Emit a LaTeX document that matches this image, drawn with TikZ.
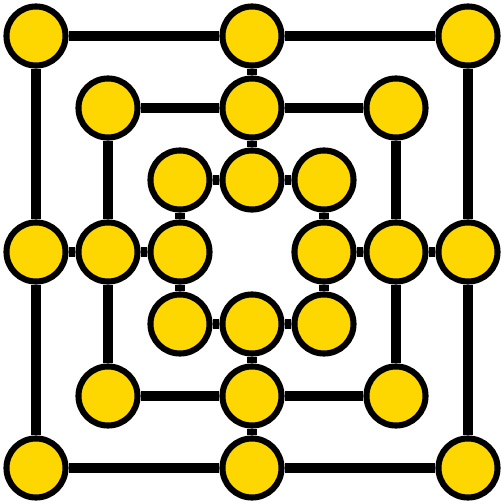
\documentclass[tikz,border=0pt]{standalone}
\definecolor{pegyellow}{RGB}{255, 215, 0}
\usetikzlibrary{positioning}
\tikzset{
	point/.style={circle, draw=black, fill=pegyellow, line width=2.4pt, inner sep=0pt, minimum size=0.82cm},
	bar/.style={draw=black, line width=3.6pt},
}
\begin{document}
\begin{tikzpicture}
		\useasboundingbox (0,0) rectangle (7,7);
		% outer square
		\node[point] (otl) at (0.5,6.5) {};
		\node[point] (otm) at (3.5,6.5) {};
		\node[point] (otr) at (6.5,6.5) {};
		\node[point] (oml) at (0.5,3.5) {};
		\node[point] (omr) at (6.5,3.5) {};
		\node[point] (obl) at (0.5,0.5) {};
		\node[point] (obm) at (3.5,0.5) {};
		\node[point] (obr) at (6.5,0.5) {};
		% middle square
		\node[point] (mtl) at (1.5,5.5) {};
		\node[point] (mtm) at (3.5,5.5) {};
		\node[point] (mtr) at (5.5,5.5) {};
		\node[point] (mml) at (1.5,3.5) {};
		\node[point] (mmr) at (5.5,3.5) {};
		\node[point] (mbl) at (1.5,1.5) {};
		\node[point] (mbm) at (3.5,1.5) {};
		\node[point] (mbr) at (5.5,1.5) {};
		% inner square
		\node[point] (itl) at (2.5,4.5) {};
		\node[point] (itm) at (3.5,4.5) {};
		\node[point] (itr) at (4.5,4.5) {};
		\node[point] (iml) at (2.5,3.5) {};
		\node[point] (imr) at (4.5,3.5) {};
		\node[point] (ibl) at (2.5,2.5) {};
		\node[point] (ibm) at (3.5,2.5) {};
		\node[point] (ibr) at (4.5,2.5) {};
		% lines
		\draw[bar] (otl) -- (otm);
		\draw[bar] (otm) -- (otr);
		\draw[bar] (otr) -- (omr);
		\draw[bar] (omr) -- (obr);
		\draw[bar] (obr) -- (obm);
		\draw[bar] (obm) -- (obl);
		\draw[bar] (obl) -- (oml);
		\draw[bar] (oml) -- (otl);
		\draw[bar] (mtl) -- (mtm);
		\draw[bar] (mtm) -- (mtr);
		\draw[bar] (mtr) -- (mmr);
		\draw[bar] (mmr) -- (mbr);
		\draw[bar] (mbr) -- (mbm);
		\draw[bar] (mbm) -- (mbl);
		\draw[bar] (mbl) -- (mml);
		\draw[bar] (mml) -- (mtl);
		\draw[bar] (itl) -- (itm);
		\draw[bar] (itm) -- (itr);
		\draw[bar] (itr) -- (imr);
		\draw[bar] (imr) -- (ibr);
		\draw[bar] (ibr) -- (ibm);
		\draw[bar] (ibm) -- (ibl);
		\draw[bar] (ibl) -- (iml);
		\draw[bar] (iml) -- (itl);
		\draw[bar] (otm) -- (mtm);
		\draw[bar] (mtm) -- (itm);
		\draw[bar] (oml) -- (mml);
		\draw[bar] (mml) -- (iml);
		\draw[bar] (omr) -- (mmr);
		\draw[bar] (mmr) -- (imr);
		\draw[bar] (obm) -- (mbm);
		\draw[bar] (mbm) -- (ibm);
	\end{tikzpicture}
\end{document}
